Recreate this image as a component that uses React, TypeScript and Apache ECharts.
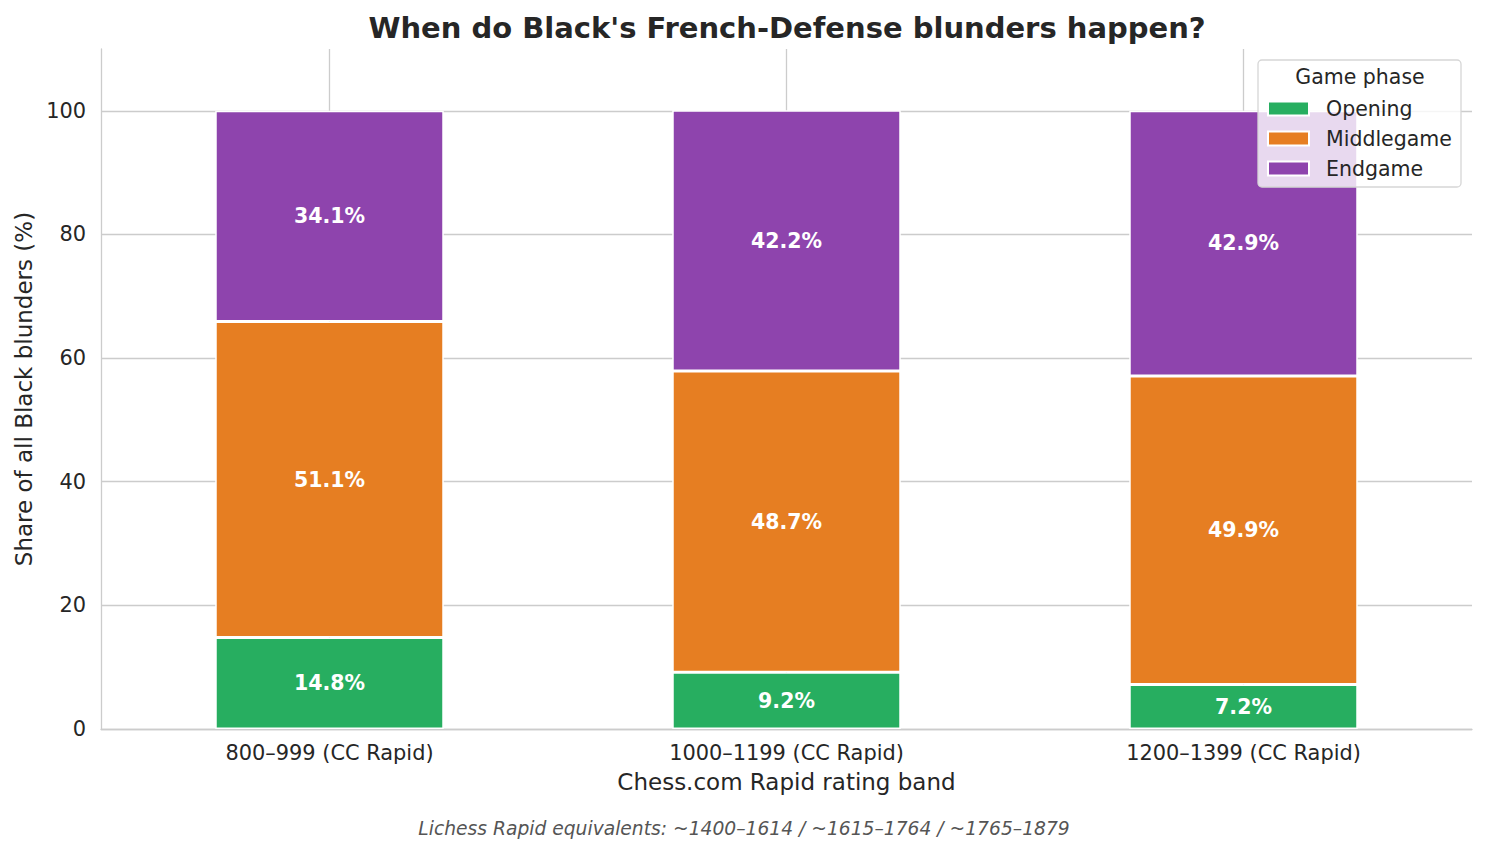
import React, { useEffect, useRef } from "react";
import * as echarts from "echarts";

const categories = ["800–999 (CC Rapid)", "1000–1199 (CC Rapid)", "1200–1399 (CC Rapid)"];
const openingValues = [14.8, 9.2, 7.2];
const middlegameValues = [51.1, 48.7, 49.9];
const endgameValues = [34.1, 42.2, 42.9];
const yTicks = [0, 20, 40, 60, 80, 100];
const seriesNames = ["Opening", "Middlegame", "Endgame"];
const seriesColors = ["#27ae60", "#e67e22", "#8e44ad"];

const FONT = "DejaVu Sans";
const TEXT = "#262626";
const GRID = "#cccccc";

export default function App() {
  const ref = useRef<HTMLDivElement>(null);

  useEffect(() => {
    if (!ref.current) return;
    const chart = echarts.init(ref.current, undefined, { renderer: "svg" });
    const valuesList = [openingValues, middlegameValues, endgameValues];

    const series: any[] = valuesList.map((vals, i) => ({
      name: seriesNames[i],
      type: "bar",
      stack: "total",
      barWidth: "50%",
      z: 2,
      data: vals,
      itemStyle: { color: seriesColors[i], borderColor: "#ffffff", borderWidth: 1.5 },
      label: {
        show: true,
        position: "inside",
        color: "#ffffff",
        fontFamily: FONT,
        fontWeight: "bold",
        fontSize: 20.5,
        formatter: (p: any) => `${Number(p.value).toFixed(1)}%`,
      },
      emphasis: { disabled: true },
    }));

    series[0].markLine = {
      silent: true,
      z: 1,
      symbol: ["none", "none"],
      label: { show: false },
      lineStyle: { color: GRID, width: 1.3, type: "solid" },
      emphasis: { disabled: true },
      data: [
        ...yTicks.map((v) => ({ yAxis: v })),
        ...categories.map((c) => ({ xAxis: c })),
      ],
    };

    chart.setOption({
      animation: false,
      backgroundColor: "#ffffff",
      textStyle: { fontFamily: FONT },
      grid: { left: 101, right: 14, top: 49, bottom: 124, containLabel: false },
      xAxis: {
        type: "category",
        data: categories,
        name: "Chess.com Rapid rating band",
        nameLocation: "middle",
        nameGap: 41,
        nameTextStyle: { color: TEXT, fontSize: 23, fontFamily: FONT },
        axisLine: { show: true, lineStyle: { color: GRID, width: 1.3 } },
        axisTick: { show: false },
        splitLine: { show: false },
        axisLabel: { color: TEXT, fontSize: 20.9, fontFamily: FONT, margin: 13 },
      },
      yAxis: {
        type: "value",
        min: 0,
        max: 110,
        interval: 20,
        name: "Share of all Black blunders (%)",
        nameLocation: "middle",
        nameGap: 55,
        nameTextStyle: { color: TEXT, fontSize: 23, fontFamily: FONT },
        axisLine: { show: true, lineStyle: { color: GRID, width: 1.3 } },
        axisTick: { show: false },
        splitLine: { show: false },
        axisLabel: {
          color: TEXT,
          fontSize: 20.9,
          fontFamily: FONT,
          margin: 15,
          showMaxLabel: false,
          formatter: (v: number) => (v > 100 ? "" : String(v)),
        },
      },
      legend: {
        data: seriesNames,
        orient: "vertical",
        icon: "rect",
        left: 1267,
        top: 98,
        padding: 0,
        itemWidth: 41,
        itemHeight: 14,
        itemGap: 9,
        z: 10,
        selectedMode: false,
        textStyle: {
          color: TEXT,
          fontSize: 20.5,
          fontFamily: FONT,
          lineHeight: 20,
          padding: [0, 0, 0, 12],
        },
      },
      graphic: [
        {
          type: "rect",
          z: 9,
          shape: { x: 1258, y: 60, width: 203, height: 127, r: 4 },
          style: { fill: "rgba(255,255,255,0.8)", stroke: "#d6d6d6", lineWidth: 1.3 },
          silent: true,
        },
        {
          type: "text",
          z: 10,
          x: 1360,
          y: 77,
          style: {
            text: "Game phase",
            align: "center",
            verticalAlign: "middle",
            fill: TEXT,
            font: `20.5px "${FONT}"`,
          },
          silent: true,
        },
        {
          type: "text",
          z: 10,
          x: 787,
          y: 28,
          style: {
            text: "When do Black's French-Defense blunders happen?",
            align: "center",
            verticalAlign: "middle",
            fill: TEXT,
            font: `bold 29px "${FONT}"`,
          },
          silent: true,
        },
        {
          type: "text",
          z: 10,
          x: 744,
          y: 828,
          style: {
            text: "Lichess Rapid equivalents: ~1400–1614 / ~1615–1764 / ~1765–1879",
            align: "center",
            verticalAlign: "middle",
            fill: "#555555",
            font: `italic 18.7px "${FONT}"`,
          },
          silent: true,
        },
      ],
      series,
    });

    return () => chart.dispose();
  }, []);

  return (
    <div
      ref={ref}
      style={{ position: "fixed", left: 0, top: 0, width: 1486, height: 853, background: "#fff" }}
    />
  );
}
